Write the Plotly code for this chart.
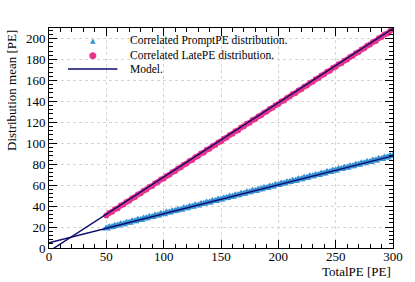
import plotly.graph_objects as go

x_pe = [50 + 2.5 * i for i in range(101)]

prompt_mean = [
    18.6, 19.9, 20.0, 21.3, 21.4, 22.7, 22.6, 24.0, 24.1, 25.5,
    25.6, 26.9, 26.8, 28.1, 28.3, 29.7, 29.6, 31.0, 31.1, 32.4,
    32.3, 33.8, 33.9, 35.1, 35.2, 36.6, 36.5, 37.9, 38.0, 39.3,
    39.4, 40.7, 40.6, 42.1, 42.2, 43.4, 43.5, 44.9, 44.8, 46.2,
    46.3, 47.6, 47.7, 49.0, 48.9, 50.4, 50.4, 51.8, 51.8, 53.1,
    53.2, 54.6, 54.5, 55.9, 56.0, 57.3, 57.3, 58.7, 58.7, 60.1,
    60.1, 61.5, 61.5, 62.8, 62.9, 64.2, 64.3, 65.6, 65.6, 67.0,
    67.0, 68.4, 68.4, 69.8, 69.8, 71.1, 71.2, 72.5, 72.6, 73.9,
    73.9, 75.3, 75.3, 76.7, 76.7, 78.1, 78.1, 79.4, 79.5, 80.8,
    80.9, 82.2, 82.2, 83.6, 83.6, 85.0, 85.0, 86.3, 86.4, 87.7,
    88.0,
]

late_mean = [
    31.0, 33.4, 34.5, 36.9, 38.0, 40.5, 41.6, 43.9, 45.0, 47.6,
    48.6, 51.1, 52.2, 54.6, 55.8, 58.2, 59.3, 61.7, 62.9, 65.3,
    66.4, 68.8, 70.0, 72.4, 73.5, 75.9, 77.1, 79.5, 80.6, 83.0,
    84.1, 86.6, 87.7, 90.1, 91.2, 93.7, 94.8, 97.2, 98.3, 100.8,
    101.9, 104.3, 105.4, 107.9, 109.0, 111.4, 112.5, 115.0, 116.1, 118.5,
    119.6, 122.1, 123.2, 125.6, 126.7, 129.2, 130.3, 132.7, 133.8, 136.2,
    137.4, 139.8, 140.9, 143.3, 144.5, 146.9, 148.0, 150.4, 151.6, 154.0,
    155.1, 157.5, 158.7, 161.1, 162.2, 164.6, 165.8, 168.2, 169.3, 171.7,
    172.9, 175.3, 176.4, 178.8, 180.0, 182.4, 183.5, 185.9, 187.1, 189.5,
    190.6, 193.0, 194.2, 196.6, 197.7, 200.1, 201.3, 203.7, 204.8, 207.2,
    209.4,
]

model_x = [0, 300]
model_prompt = [5.0, 88.0]
model_late = [-3.2, 209.6]

legend_labels = [
    "Correlated PromptPE distribution.",
    "Correlated LatePE distribution.",
    "Model.",
]

serif = "Liberation Serif, Times New Roman, serif"
navy = "#0b0b6b"
blue = "#3690d2"
pink = "#e8338a"

fig = go.Figure()
fig.add_trace(go.Scatter(
    x=x_pe, y=prompt_mean, mode="markers", name=legend_labels[0],
    marker=dict(symbol="triangle-up", size=8, color=blue),
))
fig.add_trace(go.Scatter(
    x=x_pe, y=late_mean, mode="markers", name=legend_labels[1],
    marker=dict(symbol="circle", size=6, color=pink),
))
fig.add_trace(go.Scatter(
    x=model_x, y=model_prompt, mode="lines", name=legend_labels[2],
    line=dict(color=navy, width=1.4),
))
fig.add_trace(go.Scatter(
    x=model_x, y=model_late, mode="lines", name=legend_labels[2],
    line=dict(color=navy, width=1.4),
))

axis_common = dict(
    showline=True, linecolor="black", linewidth=1, mirror="allticks",
    ticks="inside", ticklen=8, tickcolor="black", tickwidth=1,
    showgrid=True, gridcolor="#d4d4d4", griddash="dot", gridwidth=1,
    zeroline=False,
    tickfont=dict(family=serif, size=13, color="black"),
)

fig.update_xaxes(
    range=[0, 300], tick0=0, dtick=50, ticklabelstandoff=-4,
    minor=dict(ticks="inside", ticklen=4, dtick=10, tickcolor="black", showgrid=False),
    **axis_common,
)
fig.update_yaxes(
    range=[0, 210], tick0=0, dtick=20,
    minor=dict(ticks="inside", ticklen=4, dtick=4, tickcolor="black", showgrid=False),
    **axis_common,
)

# hand-placed legend (rows tighter than plotly's legend allows)
leg_text_x = 0.231
leg_rows = [0.941, 0.877, 0.814]
annotations = [
    dict(text="▲", xref="paper", yref="paper", x=0.127, y=leg_rows[0],
         xanchor="center", yanchor="middle", showarrow=False,
         font=dict(family="DejaVu Sans", size=7, color=blue)),
    dict(text="●", xref="paper", yref="paper", x=0.127, y=leg_rows[1],
         xanchor="center", yanchor="middle", showarrow=False,
         font=dict(family="DejaVu Sans", size=9, color=pink)),
]
for label, yy in zip(legend_labels, leg_rows):
    annotations.append(dict(
        text=label, xref="paper", yref="paper", x=leg_text_x, y=yy,
        xanchor="left", yanchor="middle", showarrow=False,
        font=dict(family=serif, size=11.5, color="black"),
    ))
annotations += [
    dict(text="TotalPE [PE]", xref="paper", yref="paper", x=1.0, y=0,
         xanchor="right", yanchor="top", yshift=-14, showarrow=False,
         font=dict(family=serif, size=13, color="black")),
    dict(text="Distribution mean [PE]", xref="paper", yref="paper", x=0, y=1.0,
         xanchor="right", yanchor="top", xshift=-28, textangle=-90, showarrow=False,
         font=dict(family=serif, size=13, color="black")),
]

fig.update_layout(
    width=415, height=282,
    margin=dict(l=49, r=20, t=28, b=34),
    paper_bgcolor="white", plot_bgcolor="white",
    showlegend=False,
    annotations=annotations,
    shapes=[dict(type="line", xref="paper", yref="paper",
                 x0=0.055, x1=0.199, y0=leg_rows[2], y1=leg_rows[2],
                 line=dict(color=navy, width=1.5))],
)

fig.write_html("out.html", config={"displayModeBar": False},
               post_script="document.body.style.margin='0px';")
